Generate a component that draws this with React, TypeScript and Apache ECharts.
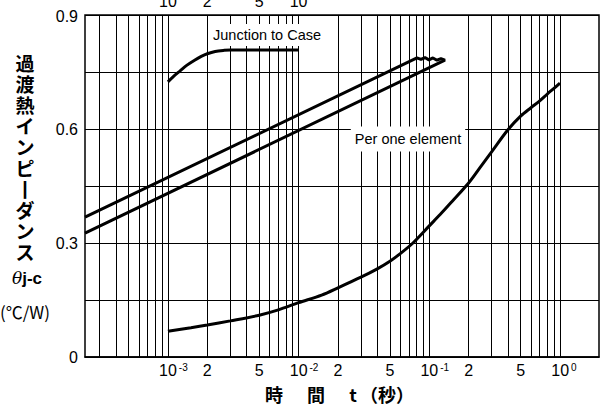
import React, { useEffect, useRef } from 'react';
import * as echarts from 'echarts';

// ---- axis ranges (seconds / °C/W) ----
const T_MIN = 2.32e-4;
const T_MAX = 1.99;
const Y_MIN = 0;
const Y_MAX = 0.9;
const Y_STEP = 0.15;

// vertical log grid lines (seconds)
const gridTimes = [
  3e-4, 4e-4, 5e-4, 6e-4, 7e-4, 8e-4, 9e-4,
  1e-3, 2e-3, 3e-3, 4e-3, 5e-3, 6e-3, 7e-3, 8e-3, 9e-3,
  1e-2, 2e-2, 3e-2, 4e-2, 5e-2, 6e-2, 7e-2, 8e-2, 9e-2,
  1e-1, 2e-1, 3e-1, 4e-1, 5e-1, 6e-1, 7e-1, 8e-1, 9e-1,
  1,
];

// bottom tick labels: mantissa text and superscript exponent
const bottomTickTimes = [1e-3, 2e-3, 5e-3, 1e-2, 2e-2, 5e-2, 1e-1, 2e-1, 5e-1, 1];
const bottomTickBase = ['10', '2', '5', '10', '2', '5', '10', '2', '5', '10'];
const bottomTickSup = ['-3', '', '', '-2', '', '', '-1', '', '', '0'];

// top tick labels (partly cut off in the original)
const topTickTimes = [1e-3, 2e-3, 5e-3, 1e-2];
const topTickLabels = ['10', '2', '5', '10'];

const yTickValues = [0, 0.3, 0.6, 0.9];

// ---- series (t in seconds, θ in °C/W) ----
const perOneElement: [number, number][] = [
  [1e-3, 0.068], [1.5e-3, 0.077], [2e-3, 0.084], [3e-3, 0.095], [5e-3, 0.11],
  [7e-3, 0.124], [1e-2, 0.143], [1.5e-2, 0.163], [2e-2, 0.182], [3e-2, 0.21],
  [4e-2, 0.232], [5e-2, 0.252], [6e-2, 0.272], [7.5e-2, 0.3], [1e-1, 0.345],
  [1.25e-1, 0.38], [1.5e-1, 0.41], [2e-1, 0.458], [2.5e-1, 0.503], [3e-1, 0.54],
  [4e-1, 0.598], [5e-1, 0.634], [6e-1, 0.656], [7e-1, 0.674], [8e-1, 0.692],
  [9e-1, 0.707], [1, 0.721],
];

const junctionToCase: [number, number][] = [
  [1e-3, 0.724], [1.1e-3, 0.738], [1.24e-3, 0.753], [1.4e-3, 0.768], [1.6e-3, 0.781],
  [1.8e-3, 0.791], [2e-3, 0.798], [2.3e-3, 0.804], [2.7e-3, 0.807], [3e-3, 0.808],
  [5e-3, 0.808], [1e-2, 0.808],
];

const bandUpper: [number, number][] = [[2.32e-4, 0.368], [0.0805, 0.787]];
const bandTear: [number, number][] = [
  [0.0805, 0.787], [0.0863, 0.783], [0.0927, 0.788], [0.0994, 0.782],
  [0.1067, 0.787], [0.1145, 0.781], [0.1228, 0.785], [0.1318, 0.781],
];
const bandLower: [number, number][] = [[0.1318, 0.781], [2.32e-4, 0.326]];

const lg = (v: number) => Math.log10(v);
const toLog = (arr: [number, number][]) => arr.map(([t, v]) => [lg(t), v]);

const NUM_FONT = "'Liberation Sans', Arial, sans-serif";
const JP_FONT = "'Noto Sans CJK JP', sans-serif";

export default function App() {
  const ref = useRef<HTMLDivElement>(null);

  useEffect(() => {
    if (!ref.current) return;
    const chart = echarts.init(ref.current, undefined, { renderer: 'svg' });

    const bottomLabelFor = (value: number) => {
      const i = bottomTickTimes.findIndex((t) => Math.abs(lg(t) - value) < 1e-6);
      if (i < 0) return '';
      const sup = bottomTickSup[i];
      if (!sup) return `{n|${bottomTickBase[i]}}`;
      const padKey = sup.length > 1 ? 'p2' : 'p1';
      return `{${padKey}| }{n|${bottomTickBase[i]}}{s|${sup}}`;
    };
    const topLabelFor = (value: number) => {
      const i = topTickTimes.findIndex((t) => Math.abs(lg(t) - value) < 1e-6);
      return i < 0 ? '' : topTickLabels[i];
    };

    const lineSeries = (name: string, data: [number, number][], width = 3, smooth: number | boolean = false) => ({
      name,
      type: 'line',
      data: toLog(data),
      showSymbol: false,
      symbol: 'none',
      silent: true,
      smooth,
      z: 3,
      lineStyle: { color: '#000', width },
    });

    const jp = (text: string, x: number) => ({
      type: 'text', x, y: 394, z: 10,
      style: { text, align: 'center', verticalAlign: 'middle', fontFamily: JP_FONT, fontWeight: 'bold', fontSize: 18, fill: '#000' },
    });

    chart.setOption({
      animation: false,
      backgroundColor: '#fff',
      grid: {
        left: 85, right: 3, top: 15, bottom: 49,
        outerBoundsMode: 'none',
        containLabel: false,
        show: true, borderColor: '#000', borderWidth: 1.5,
      },
      xAxis: [
        {
          type: 'value',
          position: 'bottom',
          min: lg(T_MIN),
          max: lg(T_MAX),
          axisLine: { show: true, lineStyle: { color: '#000', width: 1.5 } },
          splitLine: { show: false },
          axisTick: {
            show: true,
            inside: true,
            length: 342,
            customValues: gridTimes.map(lg),
            lineStyle: { color: '#000', width: 1 },
          },
          axisLabel: {
            customValues: bottomTickTimes.map(lg),
            formatter: bottomLabelFor,
            margin: 5,
            color: '#000',
            fontFamily: NUM_FONT,
            fontSize: 16,
            rich: {
              n: { fontSize: 16, fontFamily: NUM_FONT, color: '#000', lineHeight: 16 },
              s: { fontSize: 10, fontFamily: NUM_FONT, color: '#000', verticalAlign: 'top', lineHeight: 10, padding: [0, 0, 0, 2] },
              p1: { width: 8, fontSize: 10 },
              p2: { width: 11, fontSize: 10 },
            },
          },
        },
        {
          type: 'value',
          position: 'top',
          min: lg(T_MIN),
          max: lg(T_MAX),
          axisLine: { show: false },
          axisTick: { show: false },
          splitLine: { show: false },
          axisLabel: {
            customValues: topTickTimes.map(lg),
            formatter: topLabelFor,
            margin: 6,
            color: '#000',
            fontFamily: NUM_FONT,
            fontSize: 16,
          },
        },
      ],
      yAxis: {
        type: 'value',
        min: Y_MIN,
        max: Y_MAX,
        interval: Y_STEP,
        axisLine: { show: false },
        axisTick: { show: false },
        splitLine: { show: true, lineStyle: { color: '#000', width: 1 } },
        axisLabel: {
          customValues: yTickValues,
          formatter: (v: number) => (v === 0 ? '0' : v >= 0.89 ? `{t|${v.toFixed(1)}}` : v.toFixed(1)),
          margin: 7,
          color: '#000',
          fontFamily: NUM_FONT,
          fontSize: 16,
          rich: {
            t: { fontSize: 16, fontFamily: NUM_FONT, color: '#000', padding: [3, 0, 0, 0] },
          },
        },
      },
      series: [
        lineSeries('Per one element', perOneElement, 3, 0.3),
        lineSeries('Junction to Case', junctionToCase, 3, 0.3),
        lineSeries('band', [...bandUpper, ...bandTear.slice(1), ...bandLower.slice(1)], 3, false),
      ],
      graphic: [
        {
          type: 'text',
          x: 25, y: 52, z: 10,
          style: {
            text: ['過', '渡', '熱', 'イ', 'ン', 'ピ', '丨', 'ダ', 'ン', 'ス'].join('\n'),
            align: 'center', verticalAlign: 'top',
            fontFamily: JP_FONT, fontWeight: 'bold', fontSize: 19, lineHeight: 21, fill: '#000',
          },
        },
        {
          type: 'text',
          x: 27, y: 278, z: 10,
          style: {
            text: '{th|θ}{b|j-c}',
            align: 'center', verticalAlign: 'middle',
            rich: {
              th: { fontFamily: "'DejaVu Serif', serif", fontStyle: 'italic', fontSize: 17, fill: '#000' },
              b: { fontFamily: NUM_FONT, fontWeight: 'bold', fontSize: 17, fill: '#000' },
            },
          },
        },
        {
          type: 'text',
          x: 25, y: 311, z: 10,
          style: {
            text: '(℃/W)',
            align: 'center', verticalAlign: 'middle',
            fontFamily: JP_FONT, fontSize: 17, fill: '#000',
          },
        },
        jp('時', 274),
        jp('間', 316),
        jp('t', 353),
        jp('（秒）', 387),
        {
          type: 'text', x: 267, y: 35, z: 10,
          style: {
            text: 'Junction to Case', align: 'center', verticalAlign: 'middle',
            fontFamily: NUM_FONT, fontSize: 14.5, fill: '#000',
            backgroundColor: '#fff', padding: [4, 4, 3, 4],
          },
        },
        {
          type: 'text', x: 408, y: 139, z: 10,
          style: {
            text: 'Per one element', align: 'center', verticalAlign: 'middle',
            fontFamily: NUM_FONT, fontSize: 14.5, fill: '#000',
            backgroundColor: '#fff', padding: [5, 4, 5, 4],
          },
        },
      ],
    });

    return () => chart.dispose();
  }, []);

  return (
    <div
      ref={ref}
      style={{ position: 'fixed', left: 0, top: 0, width: 602, height: 406 }}
    />
  );
}
